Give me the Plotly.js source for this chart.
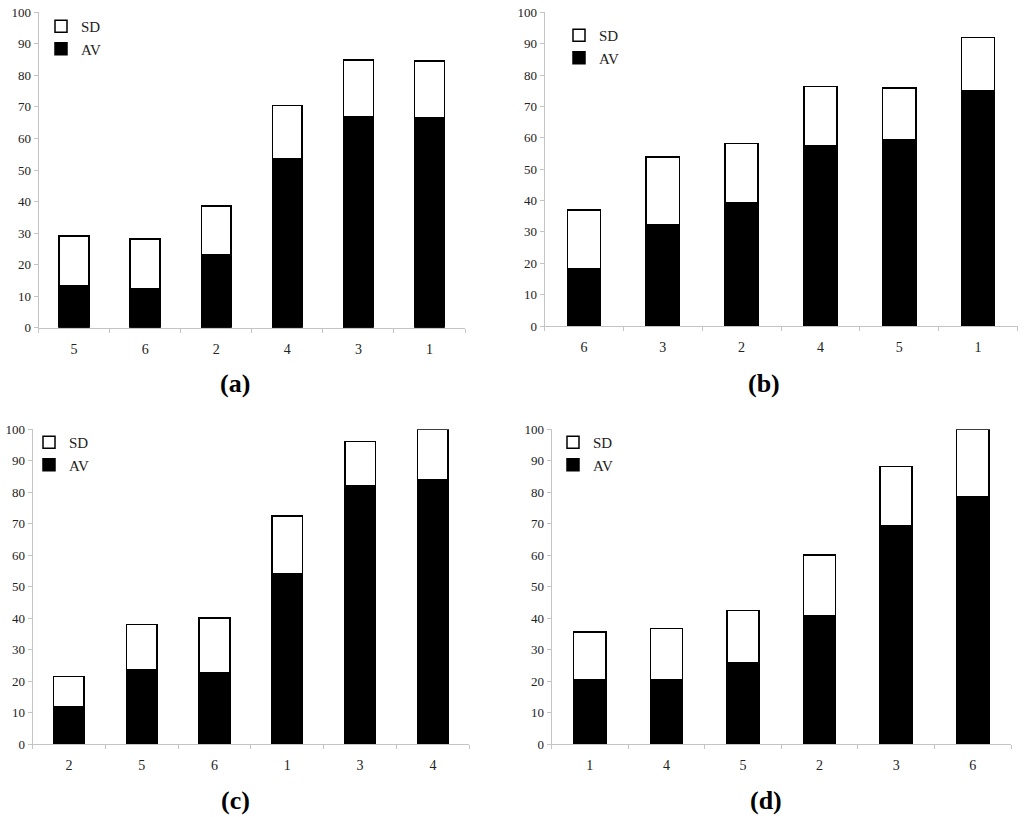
<!DOCTYPE html>
<html>
<head>
<meta charset="utf-8">
<script src="https://cdn.plot.ly/plotly-3.0.1.min.js"></script>
<style>
  html, body { margin: 0; padding: 0; background: #fff; }
  #graph { width: 1024px; height: 817px; }
</style>
</head>
<body>
<div id="graph"></div>
<script>
// category order of each panel
const catsA = ['5', '6', '2', '4', '3', '1']
const catsB = ['6', '3', '2', '4', '5', '1']
const catsC = ['2', '5', '6', '1', '3', '4']
const catsD = ['1', '4', '5', '2', '3', '6']

// average values (black part)
const avA = [13.4, 12.3, 23.0, 53.6, 67.0, 66.7]
const avB = [18.2, 32.4, 39.3, 57.5, 59.4, 75.1]
const avC = [11.7, 23.5, 22.6, 54.1, 82.0, 83.9]
const avD = [20.3, 20.3, 25.7, 40.9, 69.4, 78.7]

// standard deviation (white part stacked on top)
const sdA = [15.7, 15.8, 15.6, 16.8, 17.8, 17.8]
const sdB = [18.8, 21.5, 18.8, 18.8, 16.4, 16.8]
const sdC = [9.8, 14.4, 17.5, 18.4, 14.2, 16.1]
const sdD = [15.3, 16.4, 16.7, 19.2, 18.7, 21.3]

const panelLabels = ['(a)', '(b)', '(c)', '(d)']
const yTicks = [0, 10, 20, 30, 40, 50, 60, 70, 80, 90, 100]

const panels = [
  {cats: catsA, av: avA, sd: sdA},
  {cats: catsB, av: avB, sd: sdB},
  {cats: catsC, av: avC, sd: sdC},
  {cats: catsD, av: avD, sd: sdD}
]

// pixel boxes of the plot areas, turned into paper fractions below
const W = 1024, H = 817
const boxes = [
  {x0: 38.5, x1: 465, y0: 12.3, y1: 327.7},
  {x0: 544.5, x1: 1017.5, y0: 12.3, y1: 326},
  {x0: 32.5, x1: 469.3, y0: 429.3, y1: 744},
  {x0: 551.5, x1: 1011, y0: 429.3, y1: 744}
]
// legend anchor (pixels) for each panel
const legendPos = [[41, 10], [559, 19], [29, 426], [553, 426]]
// label centre (pixels)
const labelPos = [[235, 383], [764, 383], [235, 800], [766, 800]]

const font = 'Liberation Serif'

let traces = []
let layout = {
  width: W, height: H,
  margin: {l: 0, r: 0, t: 0, b: 0},
  paper_bgcolor: '#fff', plot_bgcolor: '#fff',
  barmode: 'stack',
  bargap: 0.58,
  font: {family: font, size: 13, color: '#222'},
  annotations: []
}

panels.forEach((p, i) => {
  const n = i === 0 ? '' : String(i + 1)
  const b = boxes[i]
  const legName = 'legend' + n

  traces.push({
    type: 'bar', name: 'AV', x: p.cats, y: p.av,
    xaxis: 'x' + n, yaxis: 'y' + n, legend: legName, legendrank: 2,
    marker: {color: '#000', line: {color: '#000', width: 1.5}},
    hoverinfo: 'skip'
  })
  traces.push({
    type: 'bar', name: 'SD', x: p.cats, y: p.sd,
    xaxis: 'x' + n, yaxis: 'y' + n, legend: legName, legendrank: 1,
    marker: {color: '#fff', line: {color: '#000', width: 1.5}},
    hoverinfo: 'skip'
  })

  layout['xaxis' + n] = {
    domain: [b.x0 / W, b.x1 / W],
    anchor: 'y' + n,
    type: 'category',
    categoryorder: 'array', categoryarray: p.cats,
    showline: true, linecolor: '#c4c4c4', linewidth: 1,
    ticks: 'outside', tickson: 'boundaries', ticklen: 4, tickcolor: '#c4c4c4',
    ticklabelstandoff: 8,
    showgrid: false, zeroline: false,
    tickfont: {family: font, size: 14, color: '#222'}
  }
  layout['yaxis' + n] = {
    domain: [1 - b.y1 / H, 1 - b.y0 / H],
    anchor: 'x' + n,
    range: [0, 100],
    tickvals: yTicks,
    showline: true, linecolor: '#c4c4c4', linewidth: 1,
    ticks: 'outside', ticklen: 4, tickcolor: '#c4c4c4',
    showgrid: false, zeroline: false,
    tickfont: {family: font, size: 13, color: '#222'}
  }
  layout[legName] = {
    x: legendPos[i][0] / W, y: 1 - legendPos[i][1] / H,
    xanchor: 'left', yanchor: 'top',
    traceorder: 'normal', tracegroupgap: 6,
    bgcolor: 'rgba(0,0,0,0)',
    itemwidth: 30,
    font: {family: font, size: 15, color: '#222'}
  }
  layout.annotations.push({
    text: '<b>' + panelLabels[i] + '</b>',
    xref: 'paper', yref: 'paper',
    x: labelPos[i][0] / W, y: 1 - labelPos[i][1] / H,
    xanchor: 'center', yanchor: 'middle',
    showarrow: false,
    font: {family: font, size: 26, color: '#000'}
  })
})

Plotly.newPlot('graph', traces, layout, {displayModeBar: false, staticPlot: true})
</script>
</body>
</html>
